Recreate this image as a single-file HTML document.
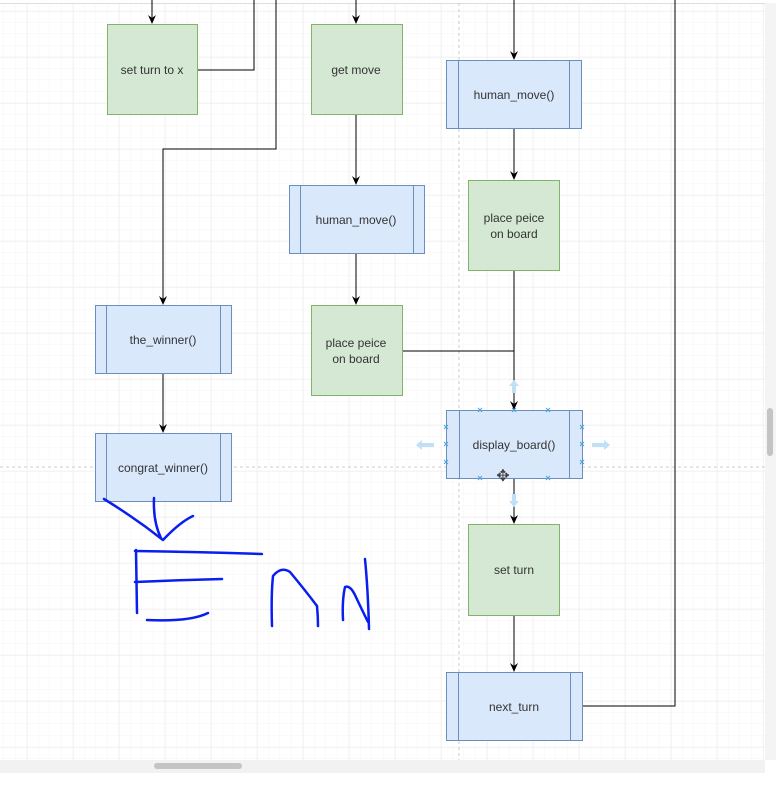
<!DOCTYPE html>
<html><head><style>
body{margin:0;width:776px;height:786px;overflow:hidden;background:#fff;font-family:"Liberation Sans",sans-serif}
</style></head><body>
<svg width="776" height="786" xmlns="http://www.w3.org/2000/svg" font-family="Liberation Sans, sans-serif" font-size="12" fill="#333">
<defs>
<pattern id="mi" width="11.5" height="11.5" patternUnits="userSpaceOnUse" x="0" y="0"><path d="M11.5 0V11.5M0 11.5H11.5" stroke="#f5f5f5" stroke-width="1" fill="none"/></pattern>
<pattern id="ma" width="46" height="46" patternUnits="userSpaceOnUse" x="27" y="11"><rect width="46" height="46" fill="url(#mi)"/><path d="M0 0V46M0 0H46" stroke="#ebebeb" stroke-width="1" fill="none"/></pattern>
<marker id="ar" markerWidth="10" markerHeight="10" refX="8" refY="5" orient="auto" markerUnits="userSpaceOnUse"><path d="M0,1 L9,5 L0,9 L3,5z" fill="#000"/></marker>
</defs>
<rect x="0" y="3" width="765" height="757" fill="url(#ma)"/>
<line x1="0" y1="3.5" x2="776" y2="3.5" stroke="#ddd"/>
<line x1="0" y1="467" x2="765" y2="467" stroke="#ccc" stroke-dasharray="3,3"/>
<line x1="459" y1="3" x2="459" y2="760" stroke="#ccc" stroke-dasharray="3,3"/>
<rect x="0" y="760" width="765" height="13" fill="#f2f2f2"/>
<rect x="154" y="763" width="88" height="6" rx="3" fill="#c4c4c4"/>
<rect x="765" y="3" width="11" height="757" fill="#f4f4f4"/>
<rect x="767" y="408" width="6" height="48" rx="3" fill="#c4c4c4"/>
<g stroke="#000" fill="none" stroke-width="1">
<line x1="152" y1="0" x2="152" y2="23" marker-end="url(#ar)"/>
<polyline points="197,70 254,70 254,0"/>
<polyline points="276,0 276,149 163,149 163,304" marker-end="url(#ar)"/>
<line x1="356" y1="0" x2="356" y2="23" marker-end="url(#ar)"/>
<line x1="356" y1="114" x2="356" y2="184" marker-end="url(#ar)"/>
<line x1="356" y1="253" x2="356" y2="304" marker-end="url(#ar)"/>
<polyline points="402,351 514,351"/>
<line x1="514" y1="0" x2="514" y2="59" marker-end="url(#ar)"/>
<line x1="514" y1="128" x2="514" y2="179" marker-end="url(#ar)"/>
<line x1="514" y1="270" x2="514" y2="409" marker-end="url(#ar)"/>
<line x1="514" y1="478" x2="514" y2="523" marker-end="url(#ar)"/>
<line x1="514" y1="615" x2="514" y2="671" marker-end="url(#ar)"/>
<polyline points="582,706 675,706 675,0"/>
<line x1="163" y1="373" x2="163" y2="432" marker-end="url(#ar)"/>
</g>
<g stroke="#82b366" fill="#d5e8d4">
<rect x="107.5" y="24.5" width="90" height="90"/>
<rect x="311.5" y="24.5" width="91" height="90"/>
<rect x="311.5" y="305.5" width="91" height="90"/>
<rect x="468.5" y="180.5" width="91" height="90"/>
<rect x="468.5" y="524.5" width="91" height="91"/>
</g>
<g stroke="#6c8ebf" fill="#dae8fc">
<rect x="289.5" y="185.5" width="135" height="68"/><path d="M300.5 185.5V253.5M413.5 185.5V253.5"/>
<rect x="446.5" y="60.5" width="135" height="68"/><path d="M458.5 60.5V128.5M569.5 60.5V128.5"/>
<rect x="446.5" y="410.5" width="136" height="68"/><path d="M459.5 410.5V478.5M569.5 410.5V478.5"/>
<rect x="446.5" y="672.5" width="136" height="68"/><path d="M458.5 672.5V740.5M570.5 672.5V740.5"/>
<rect x="95.5" y="305.5" width="136" height="68"/><path d="M106.5 305.5V373.5M220.5 305.5V373.5"/>
<rect x="95.5" y="433.5" width="136" height="68"/><path d="M106.5 433.5V501.5M220.5 433.5V501.5"/>
</g>
<g text-anchor="middle">
<text x="152" y="74">set turn to x</text>
<text x="356" y="74">get move</text>
<text x="356" y="224">human_move()</text>
<text x="356" y="347">place peice</text><text x="356" y="363">on board</text>
<text x="514" y="99">human_move()</text>
<text x="514" y="222">place peice</text><text x="514" y="238">on board</text>
<text x="514" y="449">display_board()</text>
<text x="514" y="574">set turn</text>
<text x="514" y="711">next_turn</text>
<text x="163" y="344">the_winner()</text>
<text x="163" y="472">congrat_winner()</text>
</g>
<g fill="#bfe0f7">
<path d="M514 380l-5 6h3v7h4v-7h3z"/><path d="M514 507l-5-6h3v-7h4v7h3z"/>
<path d="M416 445l6-5v3h12v4h-12v3z"/><path d="M610 445l-6-5v3h-12v4h12v3z"/>
</g>
<g stroke="#4aa3df" stroke-width="1">
<path d="M478 408l4 4M482 408l-4 4M512 408l4 4M516 408l-4 4M546 408l4 4M550 408l-4 4"/>
<path d="M478 476l4 4M482 476l-4 4M546 476l4 4M550 476l-4 4"/>
<path d="M444 425l4 4M448 425l-4 4M444 442l4 4M448 442l-4 4M444 460l4 4M448 460l-4 4"/>
<path d="M580 425l4 4M584 425l-4 4M580 442l4 4M584 442l-4 4M580 460l4 4M584 460l-4 4"/>
</g>
<text x="503" y="481" font-size="16" text-anchor="middle" fill="#444">✥</text>
<g stroke="#0a1ef0" stroke-width="2.5" fill="none" stroke-linecap="round" stroke-linejoin="round">
<path d="M104 499 Q135 518 163 540 Q180 522 193 516"/>
<path d="M154 498 Q153 522 161 538"/>
<path d="M135 551 Q200 552 262 554"/>
<path d="M136 550 L137 613"/>
<path d="M135 582 Q180 580 222 579"/>
<path d="M147 620 Q190 622 208 613"/>
<path d="M272 626 Q271 595 273 576 Q281 566 290 572 Q305 590 317 606 Q318 616 318 626"/>
<path d="M343 620 Q342 600 345 587 Q350 585 355 595 Q362 610 368 622"/>
<path d="M365 559 Q368 590 369 629"/>
</g>
</svg>
</body></html>
